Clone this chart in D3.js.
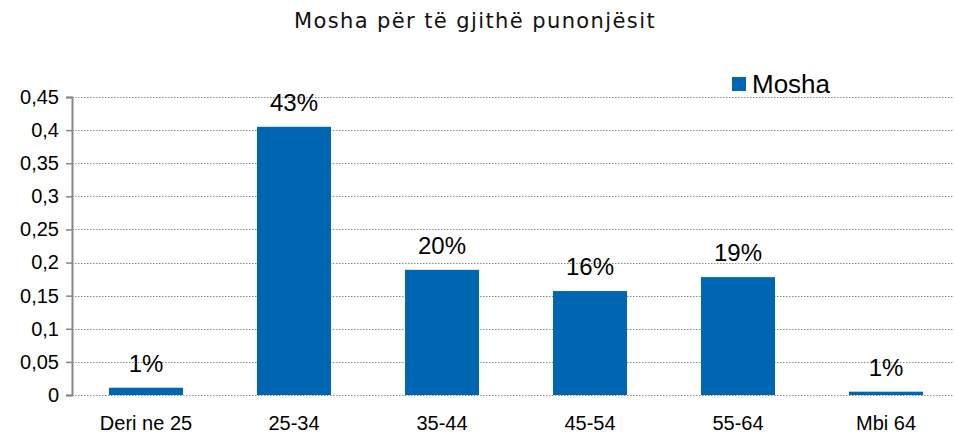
<!DOCTYPE html>
<html>
<head>
<meta charset="utf-8">
<script src="https://cdn.jsdelivr.net/npm/d3@7"></script>
<style>
  body { margin: 0; background: #fff; }
  svg { display: block; }
</style>
</head>
<body>
<script>
// Data
const categories = ["Deri ne 25", "25-34", "35-44", "45-54", "55-64", "Mbi 64"];
const values = [0.011, 0.405, 0.189, 0.157, 0.178, 0.005];
const valueLabels = ["1%", "43%", "20%", "16%", "19%", "1%"];
const yTicks = [0, 0.05, 0.1, 0.15, 0.2, 0.25, 0.3, 0.35, 0.4, 0.45];
const seriesName = "Mosha";
const title = "Mosha për të gjithë punonjësit";

// Dimensions
const width = 954;
const height = 433;
const margin = { top: 97, right: -6, bottom: 38, left: 72 };
const barColor = "#0066b2";

const svg = d3.select("body")
    .append("svg")
    .attr("width", width)
    .attr("height", height);

const x = d3.scaleBand()
    .domain(categories)
    .range([margin.left, width - margin.right])
    .paddingInner(0.5)
    .paddingOuter(0.25);

const y = d3.scaleLinear()
    .domain([0, 0.45])
    .range([height - margin.bottom, margin.top]);

// Title
svg.append("text")
    .attr("x", 475)
    .attr("y", 28)
    .attr("text-anchor", "middle")
    .attr("font-family", "'DejaVu Sans'")
    .attr("font-size", 21)
    .attr("letter-spacing", 1.4)
    .attr("fill", "#111")
    .text(title);

// Gridlines (dotted)
svg.append("g")
    .selectAll("line")
    .data(yTicks)
    .join("line")
    .attr("x1", margin.left)
    .attr("x2", width - margin.right)
    .attr("y1", d => Math.round(y(d)) + 0.5)
    .attr("y2", d => Math.round(y(d)) + 0.5)
    .attr("stroke", "#8c8c8c")
    .attr("stroke-width", 1)
    .attr("stroke-dasharray", "1.5,1.5");

// Y axis
const yAxis = svg.append("g")
    .attr("transform", `translate(${margin.left},0)`)
    .call(d3.axisLeft(y)
        .tickValues(yTicks)
        .tickSize(6)
        .tickPadding(7)
        .tickFormat(d => String(d).replace(".", ",")));

yAxis.select(".domain").attr("stroke", "#868686").attr("stroke-width", 2);
yAxis.selectAll(".tick line").attr("stroke", "#868686").attr("stroke-width", 1.5);
yAxis.selectAll(".tick text")
    .attr("font-family", "'Liberation Sans', Arial, sans-serif")
    .attr("font-size", 20)
    .attr("fill", "#000");

// Bars
svg.append("g")
    .selectAll("rect")
    .data(values)
    .join("rect")
    .attr("x", (d, i) => x(categories[i]))
    .attr("y", d => y(d))
    .attr("width", x.bandwidth())
    .attr("height", d => y(0) - y(d))
    .attr("fill", barColor);

// Value labels
svg.append("g")
    .selectAll("text")
    .data(values)
    .join("text")
    .attr("x", (d, i) => x(categories[i]) + x.bandwidth() / 2)
    .attr("y", d => y(d) - 16)
    .attr("text-anchor", "middle")
    .attr("font-family", "'Liberation Sans', Arial, sans-serif")
    .attr("font-size", 24)
    .attr("fill", "#000")
    .text((d, i) => valueLabels[i]);

// Category labels
svg.append("g")
    .selectAll("text")
    .data(categories)
    .join("text")
    .attr("x", d => x(d) + x.bandwidth() / 2)
    .attr("y", 430)
    .attr("text-anchor", "middle")
    .attr("font-family", "'Liberation Sans', Arial, sans-serif")
    .attr("font-size", 20)
    .attr("fill", "#000")
    .text(d => d);

// Legend
const legend = svg.append("g").attr("transform", "translate(732,77)");
legend.append("rect")
    .attr("width", 14)
    .attr("height", 14)
    .attr("fill", barColor);
legend.append("text")
    .attr("x", 20)
    .attr("y", 16)
    .attr("font-family", "'Liberation Sans', Arial, sans-serif")
    .attr("font-size", 26)
    .attr("fill", "#000")
    .text(seriesName);
</script>
</body>
</html>
